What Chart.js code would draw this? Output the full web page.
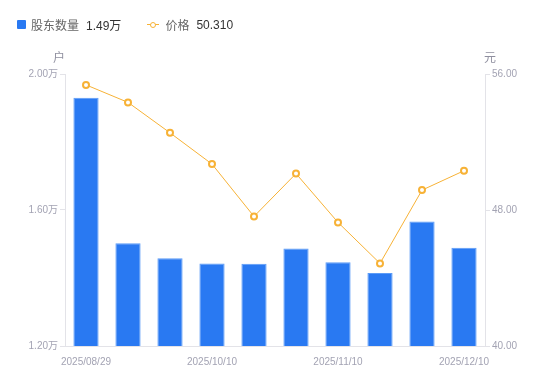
<!DOCTYPE html>
<html>
<head>
<meta charset="utf-8">
<script src="https://cdn.jsdelivr.net/npm/chart.js@4.4.1/dist/chart.umd.min.js"></script>
<style>
  html,body{margin:0;padding:0;background:#fff;}
  #wrap{position:relative;width:550px;height:381px;font-family:"Liberation Sans","Noto Sans CJK SC",sans-serif;}
  #legend{position:absolute;left:17px;top:16px;font-size:12px;display:flex;align-items:center;white-space:nowrap;}
  .lg{display:flex;align-items:center;margin-right:26px;}
  .sq{width:9px;height:9px;background:#2979f2;border-radius:1px;margin-right:5px;}
  .ln{position:relative;width:12px;height:9px;margin-right:6px;}
  .ln:before{content:"";position:absolute;left:0;right:0;top:4px;height:1px;background:#f7b236;}
  .ln:after{content:"";position:absolute;left:3px;top:1.5px;width:4px;height:4px;border:1.5px solid #f7b236;border-radius:50%;background:#fff;}
  .nm{color:#666;margin-right:7px;}
  .vl{color:#333;}
  canvas{position:absolute;left:0;top:0;}
</style>
</head>
<body>
<div id="wrap">
  <canvas id="c" width="550" height="381"></canvas>
  <div id="legend">
    <div class="lg"><span class="sq"></span><span class="nm">股东数量</span><span class="vl" id="v1"></span></div>
    <div class="lg"><span class="ln"></span><span class="nm">价格</span><span class="vl" id="v2"></span></div>
  </div>
</div>
<script>
const categories = ["2025/08/29","2025/09/10","2025/09/19","2025/10/10","2025/10/20","2025/10/31","2025/11/10","2025/11/20","2025/11/28","2025/12/10"];
const holders = [1.930, 1.502, 1.458, 1.443, 1.442, 1.487, 1.446, 1.415, 1.566, 1.489];
const prices = [55.36, 54.33, 52.54, 50.70, 47.62, 50.14, 47.27, 44.86, 49.17, 50.31];
const shownLabelIdx = [0, 3, 6, 9];
const leftTicks = [1.2, 1.6, 2.0];
const rightTicks = [40, 48, 56];

document.getElementById('v1').textContent = holders[holders.length-1].toFixed(2) + '万';
document.getElementById('v2').textContent = prices[prices.length-1].toFixed(3);

const tickColor = '#a3a3b3';
const axisColor = '#e3e3e8';
const font = {family:'"Liberation Sans","Noto Sans CJK SC",sans-serif', size:10};

const titlePlugin = {
  id:'axisTitles',
  afterDraw(chart){
    const ctx = chart.ctx, a = chart.chartArea;
    ctx.save();
    ctx.fillStyle = '#8f8f9f';
    ctx.font = '12px "Noto Sans CJK SC",sans-serif';
    ctx.textBaseline = 'middle';
    ctx.textAlign = 'center';
    ctx.fillText('户', a.left - 6, 57);
    ctx.fillText('元', a.right + 5, 57);
    ctx.restore();
  }
};

new Chart(document.getElementById('c'), {
  data: {
    labels: categories,
    datasets: [
      {
        type:'line', label:'价格', data: prices, yAxisID:'y1', order:0,
        borderColor:'#f7b236', borderWidth:1, tension:0,
        pointRadius:3, pointBorderWidth:2, pointBackgroundColor:'#fff', pointBorderColor:'#f7b236'
      },
      {
        type:'bar', label:'股东数量', data: holders, yAxisID:'y', order:1,
        backgroundColor:'#2979f2', borderColor:'#5b9bf7', borderWidth:1,
        barPercentage:0.6, categoryPercentage:1
      }
    ]
  },
  options: {
    responsive:false, animation:false,
    layout:{padding:{top:74, left:0, right:0, bottom:0}},
    plugins:{legend:{display:false}, tooltip:{enabled:false}},
    scales:{
      x:{
        grid:{display:false},
        border:{display:true, color:axisColor},
        ticks:{
          autoSkip:false, maxRotation:0, color:tickColor, font, padding:2,
          callback:(v,i)=> shownLabelIdx.includes(i) ? categories[i] : ''
        },
        afterFit(s){ s.height = 35; }
      },
      y:{
        position:'left', min:1.2, max:2.0,
        afterBuildTicks(s){ s.ticks = leftTicks.map(v=>({value:v})); },
        grid:{drawOnChartArea:false, tickLength:5, color:axisColor},
        border:{display:true, color:axisColor},
        ticks:{color:tickColor, font, padding:2, callback:v=>v.toFixed(2)+'万'},
        afterFit(s){ s.width = 65; }
      },
      y1:{
        position:'right', min:40, max:56,
        afterBuildTicks(s){ s.ticks = rightTicks.map(v=>({value:v})); },
        grid:{drawOnChartArea:false, tickLength:5, color:axisColor},
        border:{display:true, color:axisColor},
        ticks:{color:tickColor, font, padding:2, callback:v=>v.toFixed(2)},
        afterFit(s){ s.width = 65; }
      }
    }
  },
  plugins:[titlePlugin]
});
</script>
</body>
</html>
